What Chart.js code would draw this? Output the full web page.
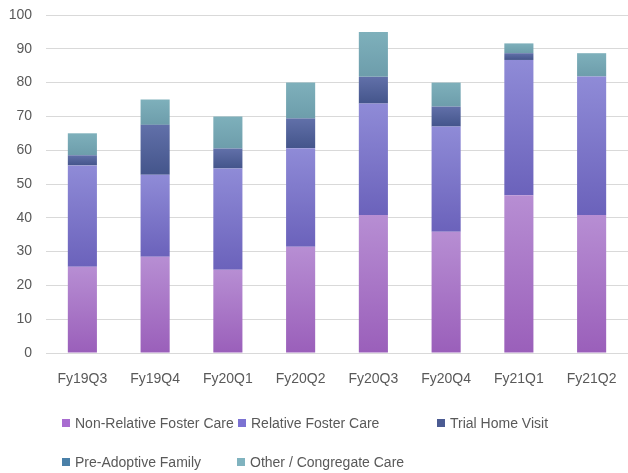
<!DOCTYPE html>
<html>
<head>
<meta charset="utf-8">
<script src="https://cdn.jsdelivr.net/npm/chart.js@4/dist/chart.umd.min.js"></script>
<style>
  html, body { margin: 0; padding: 0; background: #ffffff; }
  #wrap { position: relative; width: 628px; height: 473px; overflow: hidden; }
  #chart { position: absolute; left: 0; top: 0; }
  .lg { position: absolute; font-family: "Liberation Sans", Arimo, Arial, sans-serif;
        font-size: 14px; color: #595959; white-space: nowrap; line-height: 20px; height: 20px; }
  .lg i { position: absolute; left: 0; top: 6px; width: 8px; height: 8px; }
  .lg span { position: absolute; left: 13px; top: 0; }
</style>
</head>
<body>
<div id="wrap">
  <canvas id="chart" width="628" height="473"></canvas>
  <div id="legend"></div>
</div>
<script>
// ---- data ----
const categories = ["Fy19Q3", "Fy19Q4", "Fy20Q1", "Fy20Q2", "Fy20Q3", "Fy20Q4", "Fy21Q1", "Fy21Q2"];
const seriesNames = ["Non-Relative Foster Care", "Relative Foster Care", "Trial Home Visit", "Pre-Adoptive Family", "Other / Congregate Care"];
const nonRelativeFosterCare = [25.5, 28.5, 24.6, 31.4, 40.8, 35.9, 46.7, 40.8];
const relativeFosterCare    = [30.0, 24.2, 30.0, 29.2, 33.0, 31.1, 40.0, 41.0];
const trialHomeVisit        = [3.0, 14.8, 5.9, 8.8, 7.9, 5.9, 2.0, 0];
const preAdoptiveFamily     = [0, 0, 0, 0, 0, 0, 0, 0];
const otherCongregateCare   = [6.5, 7.5, 9.5, 10.6, 13.3, 7.1, 2.9, 6.9];
const yTicks = [0, 10, 20, 30, 40, 50, 60, 70, 80, 90, 100];

const seriesValues = [nonRelativeFosterCare, relativeFosterCare, trialHomeVisit, preAdoptiveFamily, otherCongregateCare];

// ---- styling ----
const FONT = '"Liberation Sans", Arimo, Arial, sans-serif';
const gradStops = [
  ["#b78ed3", "#9a5fba"],   // non-relative
  ["#8f8bd7", "#6b62bb"],   // relative
  ["#6170a9", "#44558b"],   // trial
  ["#5a8fb6", "#43779f"],   // pre-adoptive
  ["#7eb0bb", "#6d9dab"]    // other
];
const legendColors = ["#a86cd0", "#7b72d2", "#4b5b92", "#4a80a8", "#80b3bf"];

function segmentFill(dsIndex) {
  return function (ctx) {
    const chart = ctx.chart;
    const y = chart.scales && chart.scales.y;
    if (!y || !chart.chartArea || ctx.type !== 'data') return legendColors[dsIndex];
    const i = ctx.dataIndex;
    let base = 0;
    for (let k = 0; k < dsIndex; k++) base += seriesValues[k][i];
    const top = base + seriesValues[dsIndex][i];
    const yTop = y.getPixelForValue(top);
    const yBot = y.getPixelForValue(base);
    if (!isFinite(yTop) || !isFinite(yBot) || yTop === yBot) return legendColors[dsIndex];
    const g = chart.ctx.createLinearGradient(0, yTop, 0, yBot);
    g.addColorStop(0, gradStops[dsIndex][0]);
    g.addColorStop(1, gradStops[dsIndex][1]);
    return g;
  };
}

const datasets = seriesNames.map((name, k) => ({
  label: name,
  data: seriesValues[k],
  backgroundColor: segmentFill(k),
  legendColor: legendColors[k],
  borderWidth: 0,
  barPercentage: 1.0,
  categoryPercentage: 0.4
}));

const chart = new Chart(document.getElementById('chart'), {
  type: 'bar',
  data: { labels: categories, datasets: datasets },
  options: {
    responsive: false,
    animation: false,
    devicePixelRatio: 1,
    layout: { padding: { top: 15, right: 0, bottom: 0, left: 0 } },
    plugins: {
      legend: { display: false },
      tooltip: { enabled: false }
    },
    scales: {
      x: {
        stacked: true,
        grid: { display: false, drawTicks: true, tickLength: 18 },
        border: { display: false },
        ticks: { color: '#595959', font: { family: FONT, size: 14 }, padding: 0, maxRotation: 0 },
        afterFit: (s) => { s.height = 120; }
      },
      y: {
        stacked: true,
        min: 0, max: 100,
        afterBuildTicks: (s) => { s.ticks = yTicks.map(v => ({ value: v })); },
        grid: { color: '#d9d9d9', lineWidth: 1, drawTicks: true, tickLength: 14, tickColor: 'rgba(0,0,0,0)' },
        border: { display: false },
        ticks: { color: '#595959', font: { family: FONT, size: 14 }, padding: 0 },
        afterFit: (s) => { s.width = 46; }
      }
    }
  }
});

// ---- HTML legend built from the chart's datasets ----
const legendSlots = [[62, 413], [238, 413], [437, 413], [62, 452], [237, 452]];
const legendEl = document.getElementById('legend');
chart.data.datasets.forEach((ds, k) => {
  const item = document.createElement('div');
  item.className = 'lg';
  item.style.left = legendSlots[k][0] + 'px';
  item.style.top = legendSlots[k][1] + 'px';
  const box = document.createElement('i');
  box.style.background = ds.legendColor;
  const txt = document.createElement('span');
  txt.textContent = ds.label;
  item.appendChild(box);
  item.appendChild(txt);
  legendEl.appendChild(item);
});
</script>
</body>
</html>
